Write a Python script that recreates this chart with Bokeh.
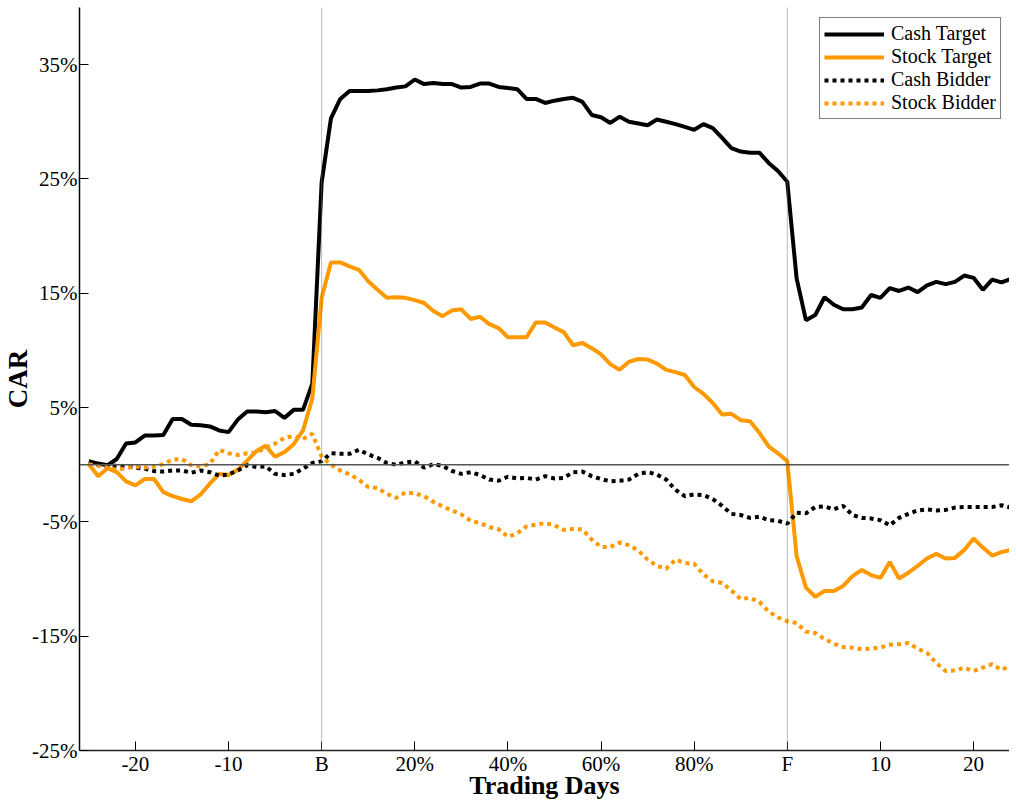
from bokeh.plotting import figure
from bokeh.models import Range1d, FixedTicker, Span
from bokeh.embed import file_html
from bokeh.resources import INLINE

# ---------------- data ----------------
# x positions: -25..0 = trading days before bid (B = 0),
# 0..50 = percent of time between bid (B) and final (F), 2% per step,
# 50..75 = trading days after F
pre_days = list(range(-25, 0))
mid_steps = list(range(0, 51))
post_days = list(range(1, 26))

cash_target_pre = [0.3, 0.1, -0.05, 0.5, 1.85, 1.95, 2.55, 2.55, 2.6, 4.0, 4.0, 3.5, 3.45,
                   3.35, 3.0, 2.85, 3.95, 4.65, 4.65, 4.6, 4.7, 4.1, 4.8, 4.8, 7.1]
cash_target_mid = [24.7, 30.3, 32.0, 32.7, 32.7, 32.7, 32.75, 32.85, 33.0, 33.1, 33.7, 33.3,
                   33.4, 33.3, 33.3, 33.0, 33.05, 33.35, 33.35, 33.05, 32.95, 32.85, 32.0,
                   32.0, 31.65, 31.85, 32.0, 32.1, 31.75, 30.6, 30.4, 29.9, 30.45, 30.0,
                   29.85, 29.7, 30.2, 30.0, 29.8, 29.55, 29.3, 29.8, 29.45, 28.6, 27.7, 27.4,
                   27.3, 27.3, 26.4, 25.7, 24.75]
cash_target_post = [16.3, 12.65, 13.1, 14.65, 14.0, 13.6, 13.6, 13.75, 14.85, 14.6, 15.45,
                    15.2, 15.5, 15.1, 15.7, 16.0, 15.8, 16.0, 16.55, 16.35, 15.3, 16.2, 15.95,
                    16.25, 15.4]

stock_target_pre = [0.05, -1.0, -0.3, -0.65, -1.45, -1.8, -1.25, -1.25, -2.4, -2.75, -3.0,
                    -3.2, -2.6, -1.65, -0.8, -0.9, -0.45, 0.35, 1.2, 1.65, 0.7, 1.1, 1.8,
                    3.0, 5.8]
stock_target_mid = [14.6, 17.7, 17.7, 17.35, 17.05, 16.05, 15.3, 14.6, 14.65, 14.6, 14.4,
                    14.15, 13.45, 13.0, 13.5, 13.6, 12.75, 12.95, 12.3, 11.95, 11.15, 11.15,
                    11.15, 12.45, 12.45, 12.0, 11.6, 10.45, 10.65, 10.2, 9.65, 8.8, 8.3, 9.0,
                    9.25, 9.2, 8.85, 8.3, 8.1, 7.85, 6.8, 6.2, 5.4, 4.4, 4.45, 3.9, 3.8, 2.8,
                    1.6, 1.0, 0.3]
stock_target_post = [-8.0, -10.75, -11.55, -11.05, -11.05, -10.6, -9.75, -9.2, -9.65, -9.9,
                     -8.5, -9.95, -9.45, -8.85, -8.2, -7.8, -8.2, -8.15, -7.45, -6.45, -7.25,
                     -7.95, -7.65, -7.45, -6.6]

cash_bidder_pre = [0.15, 0.0, -0.1, -0.1, -0.15, -0.25, -0.35, -0.55, -0.6, -0.5, -0.5, -0.7,
                   -0.5, -0.65, -0.95, -0.85, -0.5, -0.05, -0.2, -0.15, -0.8, -0.9, -0.8,
                   -0.35, 0.15]
cash_bidder_mid = [0.3, 1.0, 0.95, 0.95, 1.3, 0.9, 0.6, 0.15, 0.0, 0.2, 0.3, -0.25, 0.05,
                   -0.1, -0.55, -0.8, -0.65, -0.9, -1.3, -1.4, -1.05, -1.2, -1.15, -1.3, -1.0,
                   -1.2, -1.15, -0.65, -0.6, -1.0, -1.25, -1.45, -1.4, -1.3, -0.8, -0.65,
                   -0.85, -1.3, -2.2, -2.75, -2.6, -2.65, -3.0, -3.6, -4.3, -4.4, -4.65,
                   -4.55, -4.85, -4.9, -5.15]
cash_bidder_post = [-4.2, -4.25, -3.7, -3.65, -3.9, -3.6, -4.4, -4.65, -4.7, -4.85, -5.3,
                    -4.65, -4.3, -4.0, -3.9, -4.0, -3.95, -3.75, -3.7, -3.7, -3.7, -3.7,
                    -3.55, -3.75, -3.5]

stock_bidder_pre = [0.05, -0.1, -0.25, -0.45, -0.3, -0.15, -0.25, -0.15, 0.05, 0.45, 0.5,
                    -0.05, -0.15, 0.05, 1.3, 1.0, 0.85, 1.0, 1.05, 1.5, 1.85, 2.35, 2.5,
                    2.25, 2.7]
stock_bidder_mid = [0.7, 0.0, -0.5, -0.85, -1.3, -1.95, -2.05, -2.55, -2.9, -2.42, -2.5,
                    -2.75, -3.25, -3.65, -4.0, -4.35, -4.9, -5.1, -5.45, -5.65, -6.3, -6.0,
                    -5.4, -5.25, -5.1, -5.3, -5.7, -5.62, -5.65, -6.55, -7.2, -7.2, -6.8,
                    -7.05, -7.5, -8.3, -8.85, -9.1, -8.3, -8.6, -8.67, -9.6, -10.2, -10.35,
                    -11.0, -11.75, -11.65, -12.0, -12.85, -13.35, -13.7]
stock_bidder_post = [-13.85, -14.6, -14.72, -15.25, -15.65, -15.95, -16.0, -16.15, -16.08,
                     -16.0, -15.75, -15.7, -15.6, -16.1, -16.45, -17.35, -18.05, -18.0,
                     -17.75, -18.05, -17.75, -17.45, -17.95, -17.55, -17.2]

x_tick_pos = [-20, -10, 0, 10, 20, 30, 40, 50, 60, 70]
x_tick_labels = ["-20", "-10", "B", "20%", "40%", "60%", "80%", "F", "10", "20"]
y_tick_pos = [-25, -15, -5, 5, 15, 25, 35]
y_tick_labels = ["-25%", "-15%", "-5%", "5%", "15%", "25%", "35%"]

series_names = ["Cash Target", "Stock Target", "Cash Bidder", "Stock Bidder"]

# ---------------- build ----------------
xs = pre_days + mid_steps + [50 + d for d in post_days]
series = [
    cash_target_pre + cash_target_mid + cash_target_post,
    stock_target_pre + stock_target_mid + stock_target_post,
    cash_bidder_pre + cash_bidder_mid + cash_bidder_post,
    stock_bidder_pre + stock_bidder_mid + stock_bidder_post,
]
for s in series:
    assert len(s) == len(xs), (len(s), len(xs))

ORANGE = "#FF9900"
colors = ["black", ORANGE, "black", ORANGE]
dashes = ["solid", "solid", "4 4", "4 4"]

SERIF = "Liberation Serif"

p = figure(width=1009, height=802, output_backend="svg", toolbar_location=None,
           x_range=Range1d(-26, 73.86), y_range=Range1d(-25, 40),
           min_border_left=77, min_border_right=0, min_border_top=7,
           min_border_bottom=52)
p.outline_line_color = None
p.grid.visible = False
p.background_fill_color = "white"

# reference lines
p.add_layout(Span(location=0, dimension="width", line_color="#555555", line_width=1.5))
for loc in [0, 50]:
    p.add_layout(Span(location=loc, dimension="height", line_color="#777777",
                      line_width=1, line_dash="1 1"))

for name, ys, c, d in zip(series_names, series, colors, dashes):
    p.line(xs, ys, line_color=c, line_width=4, line_dash=d, legend_label=name)

# axes
xa = p.xaxis[0]
xa.ticker = FixedTicker(ticks=x_tick_pos)
xa.major_label_overrides = {k: v for k, v in zip(x_tick_pos, x_tick_labels)}
xa.major_tick_in = 9
xa.major_tick_out = 0
xa.minor_tick_line_color = None
xa.axis_line_width = 1.5
xa.axis_line_color = "#222222"
xa.major_label_text_font = SERIF
xa.major_label_text_font_size = "21px"
xa.major_label_text_color = "black"
xa.major_label_standoff = 1
xa.axis_label = "Trading Days"
xa.axis_label_text_font = SERIF
xa.axis_label_text_font_size = "26px"
xa.axis_label_text_font_style = "bold"
xa.axis_label_text_color = "black"
xa.axis_label_standoff = -8

ya = p.yaxis[0]
ya.ticker = FixedTicker(ticks=y_tick_pos)
ya.major_label_overrides = {k: v for k, v in zip(y_tick_pos, y_tick_labels)}
ya.major_tick_in = 9
ya.major_tick_out = 0
ya.minor_tick_line_color = None
ya.axis_line_width = 1.5
ya.axis_line_color = "black"
ya.major_label_text_font = SERIF
ya.major_label_text_font_size = "21px"
ya.major_label_text_color = "black"
ya.major_label_standoff = 2
ya.axis_label = "CAR"
ya.axis_label_text_font = SERIF
ya.axis_label_text_font_size = "27px"
ya.axis_label_text_font_style = "bold"
ya.axis_label_text_color = "black"
ya.axis_label_standoff = -4

# legend
lg = p.legend[0]
lg.location = (740, 631)
lg.label_text_font = SERIF
lg.label_text_font_size = "20px"
lg.label_text_color = "black"
lg.glyph_width = 60
lg.glyph_height = 18
lg.label_height = 18
lg.label_standoff = 7
lg.spacing = 0
lg.padding = 4
lg.margin = 0
lg.border_line_color = "black"
lg.border_line_width = 1.5
lg.background_fill_color = "white"
lg.background_fill_alpha = 1.0

open("out.html", "w").write(file_html(p, INLINE))
